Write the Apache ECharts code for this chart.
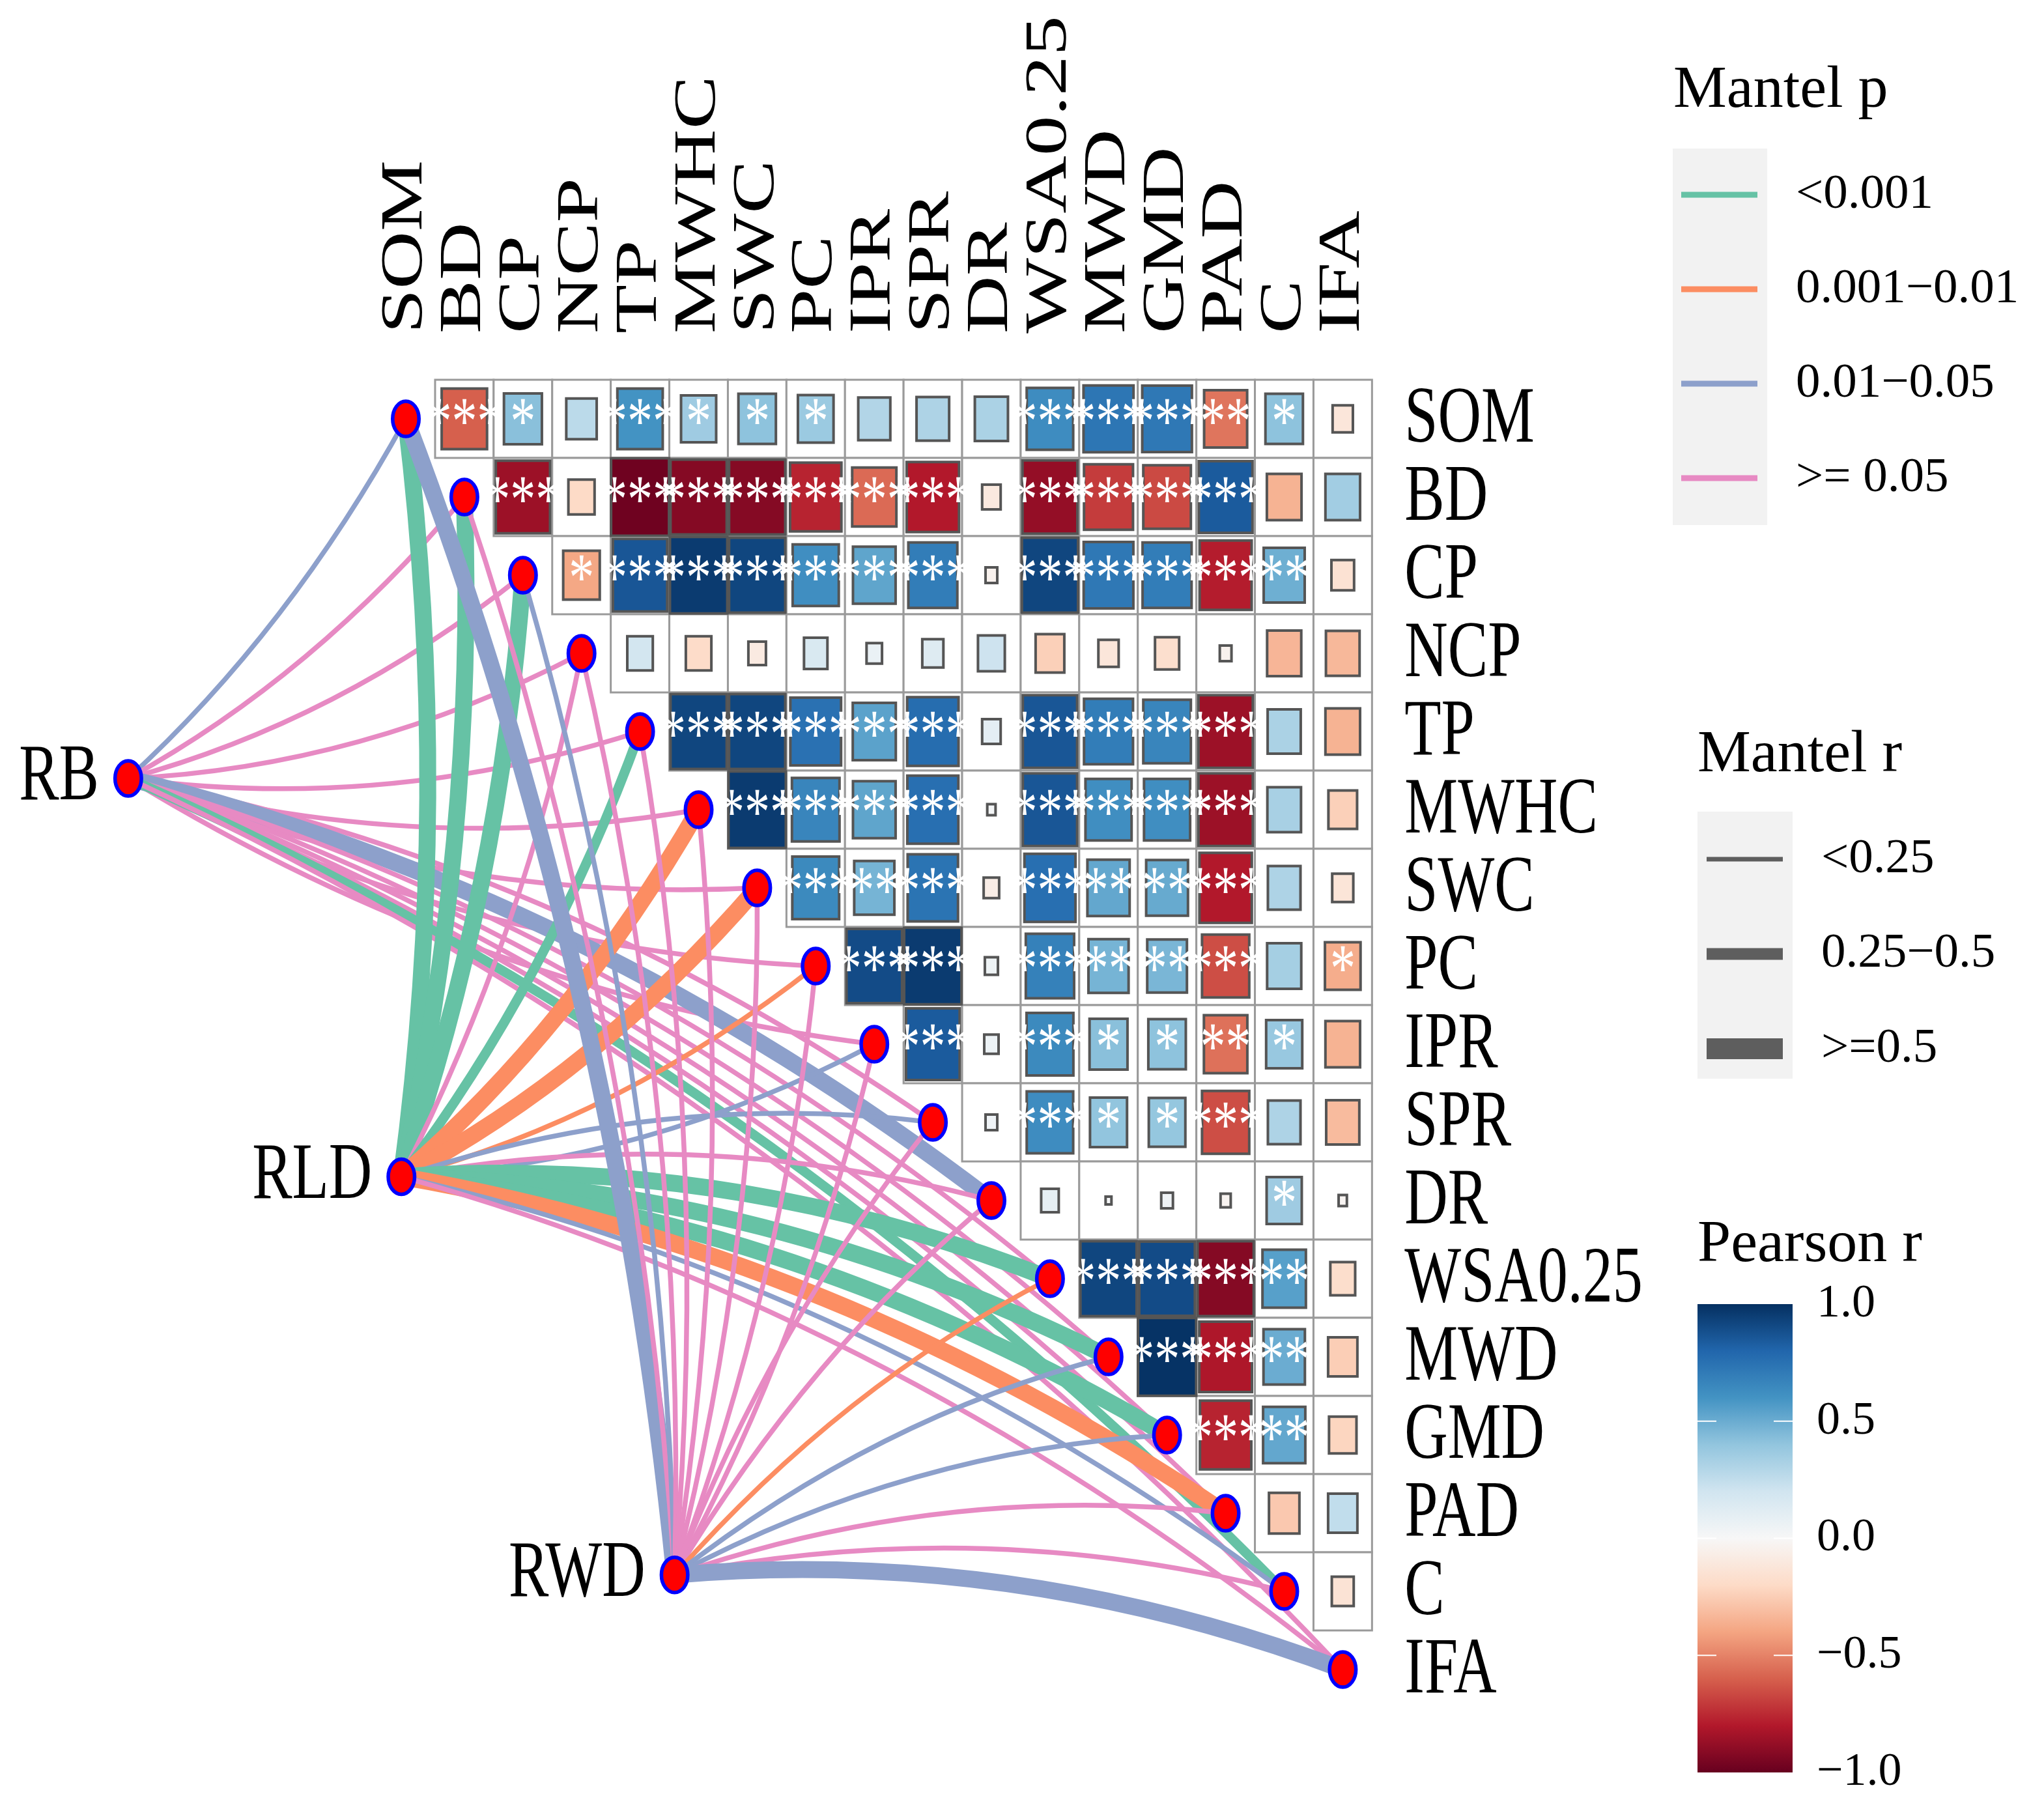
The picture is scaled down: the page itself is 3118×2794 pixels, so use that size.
<!DOCTYPE html>
<html>
<head>
<meta charset="utf-8">
<script src="https://cdn.jsdelivr.net/npm/echarts@6/dist/echarts.min.js"></script>
<style>
html,body{margin:0;padding:0;background:#ffffff;}
#chart{width:3118px;height:2794px;}
</style>
</head>
<body>
<div id="chart"></div>
<script>
// ---------------- DATA ----------------
const vars = ['SOM','BD','CP','NCP','TP','MWHC','SWC','PC','IPR','SPR','DR','WSA0.25','MWD','GMD','PAD','C','IFA'];
const envs = ['RB','RLD','RWD'];

// Pearson r, upper triangle: row variable vs. every later variable
const r_SOM  = [-0.60, 0.42, 0.27, 0.60, 0.36, 0.41, 0.37, 0.30, 0.31, 0.32, 0.63, 0.73, 0.72, -0.54, 0.41, -0.12];
const r_BD   = [-0.86, -0.20, -0.98, -0.92, -0.92, -0.77, -0.57, -0.80, -0.10, -0.88, -0.70, -0.66, 0.84, -0.35, 0.35];
const r_CP   = [-0.39, 0.86, 0.96, 0.92, 0.62, 0.53, 0.70, -0.04, 0.92, 0.72, 0.70, -0.79, 0.49, -0.15];
const r_NCP  = [0.19, -0.19, -0.09, 0.16, 0.07, 0.13, 0.21, -0.24, -0.12, -0.17, -0.04, -0.34, -0.33];
const r_TP   = [0.92, 0.92, 0.75, 0.54, 0.77, 0.10, 0.86, 0.70, 0.66, -0.86, 0.32, -0.35];
const r_MWHC = [0.96, 0.66, 0.53, 0.76, 0.02, 0.86, 0.62, 0.62, -0.86, 0.33, -0.24];
const r_SWC  = [0.64, 0.47, 0.74, -0.07, 0.76, 0.52, 0.51, -0.80, 0.31, -0.13];
const r_PC   = [0.90, 0.96, 0.05, 0.68, 0.47, 0.46, -0.65, 0.34, -0.37];
const r_IPR  = [0.84, 0.06, 0.64, 0.42, 0.41, -0.55, 0.38, -0.35];
const r_SPR  = [0.04, 0.63, 0.40, 0.39, -0.65, 0.31, -0.32];
const r_DR   = [0.09, 0.01, 0.04, -0.03, 0.36, -0.02];
const r_WSA  = [0.92, 0.90, -0.92, 0.55, -0.18];
const r_MWD  = [0.99, -0.81, 0.50, -0.25];
const r_GMD  = [-0.77, 0.52, -0.22];
const r_PAD  = [-0.27, 0.25];
const r_C    = [-0.14];

// significance marks for the same cells
const s_SOM  = ['***','*','','***','*','*','*','','','','***','***','***','**','*',''];
const s_BD   = ['***','','***','***','***','***','***','***','','***','***','***','***','',''];
const s_CP   = ['*','***','***','***','***','***','***','','***','***','***','***','**',''];
const s_NCP  = ['','','','','','','','','','','','',''];
const s_TP   = ['***','***','***','***','***','','***','***','***','***','',''];
const s_MWHC = ['***','***','***','***','','***','***','***','***','',''];
const s_SWC  = ['***','**','***','','***','**','**','***','',''];
const s_PC   = ['***','***','','***','**','**','***','','*'];
const s_IPR  = ['***','','***','*','*','**','*',''];
const s_SPR  = ['','***','*','*','***','',''];
const s_DR   = ['','','','','*',''];
const s_WSA  = ['***','***','***','**',''];
const s_MWD  = ['***','***','**',''];
const s_GMD  = ['***','**',''];
const s_PAD  = ['',''];
const s_C    = [''];

// Mantel test classes (index into pLabels / rLabels), one per variable
const pLabels = ['<0.001', '0.001\u22120.01', '0.01\u22120.05', '>= 0.05'];
const rLabels = ['<0.25', '0.25\u22120.5', '>=0.5'];
const p_RB  = [2,3,3,3,3,3,3,3,3,3,2,3,3,3,3,0,3];
const w_RB  = [0,0,0,0,0,0,0,0,0,0,2,0,0,0,0,1,0];
const p_RLD = [0,0,0,3,0,1,1,1,2,2,3,0,0,0,1,2,3];
const w_RLD = [2,2,2,0,1,2,2,0,0,0,0,2,2,2,2,0,0];
const p_RWD = [2,3,2,3,3,3,3,3,3,3,3,1,2,2,3,3,2];
const w_RWD = [2,0,0,0,0,0,0,0,0,0,0,0,0,0,0,0,2];

const corTicks = [1.0, 0.5, 0.0, -0.5, -1.0];

// ---------------- STYLE ----------------
const pColors = ['#66C2A5', '#FC8D62', '#8DA0CB', '#E78AC3'];
const linkWidths = [7.5, 15, 26];
const legendWidths = [7, 18, 32];
const rdbu = ['#67001F','#B2182B','#D6604D','#F4A582','#FDDBC7','#F7F7F7','#D1E5F0','#92C5DE','#4393C3','#2166AC','#053061'];
const SERIF = '"Liberation Serif", "Times New Roman", serif';

// ---------------- BUILD ----------------
const rRows = [r_SOM,r_BD,r_CP,r_NCP,r_TP,r_MWHC,r_SWC,r_PC,r_IPR,r_SPR,r_DR,r_WSA,r_MWD,r_GMD,r_PAD,r_C];
const sRows = [s_SOM,s_BD,s_CP,s_NCP,s_TP,s_MWHC,s_SWC,s_PC,s_IPR,s_SPR,s_DR,s_WSA,s_MWD,s_GMD,s_PAD,s_C];
const cellData = [];
rRows.forEach((row, i) => row.forEach((r, k) => {
  cellData.push([i + 1 + k, i, r, sRows[i][k].length]);
}));

const mantelP = [p_RB, p_RLD, p_RWD];
const mantelW = [w_RB, w_RLD, w_RWD];
const linkData = [];
envs.forEach((e, ei) => vars.forEach((v, t) => linkData.push([ei, t, mantelP[ei][t], mantelW[ei][t]])));

// layout of the environment nodes (a line parallel to the diagonal)
function envPos(ei) { return [-4.74 + 4.665 * ei, 4.6 + 5.095 * ei]; }

const nodeData = [];
vars.forEach((v, t) => nodeData.push([t, t]));
envs.forEach((e, ei) => nodeData.push(envPos(ei)));

const labelData = [];
vars.forEach((v, t) => labelData.push([0, t]));
vars.forEach((v, t) => labelData.push([1, t]));
envs.forEach((e, ei) => labelData.push([2, ei]));

const midRow = (vars.length - 1) / 2;

const chart = echarts.init(document.getElementById('chart'), null, {renderer: 'canvas', width: 3118, height: 2794});

// legend graphics
const g = [];
// Mantel p
g.push({type:'text', x: 2569, y: 140, style:{text:'Mantel p', font:'92px ' + SERIF, fill:'#000', align:'left', verticalAlign:'middle'}});
g.push({type:'rect', shape:{x:2568, y:228, width:145, height:578}, style:{fill:'#F2F2F2'}});
pLabels.forEach((lab, k) => {
  const y = 299 + 145 * k;
  g.push({type:'line', shape:{x1:2581, y1:y, x2:2698, y2:y}, style:{stroke:pColors[k], lineWidth:9}});
  g.push({type:'text', x: 2757, y: y, style:{text:lab, font:'75px ' + SERIF, fill:'#000', align:'left', verticalAlign:'middle'}});
});
// Mantel r
g.push({type:'text', x: 2606, y: 1160, style:{text:'Mantel r', font:'92px ' + SERIF, fill:'#000', align:'left', verticalAlign:'middle'}});
g.push({type:'rect', shape:{x:2606, y:1246, width:146, height:410}, style:{fill:'#F2F2F2'}});
rLabels.forEach((lab, k) => {
  const y = 1319 + 145.5 * k;
  g.push({type:'line', shape:{x1:2620, y1:y, x2:2737, y2:y}, style:{stroke:'#5E5E5E', lineWidth:legendWidths[k]}});
  g.push({type:'text', x: 2796, y: y, style:{text:lab, font:'75px ' + SERIF, fill:'#000', align:'left', verticalAlign:'middle'}});
});
// Pearson r colour bar
g.push({type:'text', x: 2606, y: 1912, style:{text:'Pearson r', font:'92px ' + SERIF, fill:'#000', align:'left', verticalAlign:'middle'}});
const barTop = 2002, barH = 719, barX = 2606, barW = 146;
g.push({type:'rect', shape:{x:barX, y:barTop, width:barW, height:barH}, style:{
  fill: new echarts.graphic.LinearGradient(0, 0, 0, 1, rdbu.slice().reverse().map((c, k) => ({offset: k / (rdbu.length - 1), color: c})))
}});
corTicks.forEach(v => {
  const y = barTop + (1 - v) / 2 * barH;
  if (Math.abs(v) < 1) {
    g.push({type:'line', shape:{x1:barX, y1:y, x2:barX + 29, y2:y}, style:{stroke:'#ffffff', lineWidth:2}});
    g.push({type:'line', shape:{x1:barX + barW - 29, y1:y, x2:barX + barW, y2:y}, style:{stroke:'#ffffff', lineWidth:2}});
  }
  const txt = (v < 0 ? '\u2212' : '') + Math.abs(v).toFixed(1);
  g.push({type:'text', x: 2789, y: y, style:{text:txt, font:'72px ' + SERIF, fill:'#000', align:'left', verticalAlign:'middle'}});
});

const option = {
  animation: false,
  backgroundColor: '#ffffff',
  grid: {left: 83.6, top: 43, width: 2157.6, height: 2640},
  xAxis: {type: 'value', min: -6, max: 18, show: false},
  yAxis: {type: 'value', min: -5, max: 17, inverse: true, show: false},
  visualMap: {
    type: 'continuous', show: false, min: -1, max: 1, dimension: 2, seriesIndex: 1,
    inRange: {color: rdbu}
  },
  graphic: {elements: g},
  series: [
    { // cell backgrounds
      type: 'custom', silent: true, data: cellData, z: 1,
      renderItem(params, api) {
        const c = api.coord([api.value(0), api.value(1)]);
        const s = api.size([1, 1]);
        return {type:'rect', shape:{x:c[0]-s[0]/2, y:c[1]-s[1]/2, width:s[0], height:s[1]},
          style:{fill:'#ffffff', stroke:'#9A9A9A', lineWidth:3}};
      }
    },
    { // correlation squares
      type: 'custom', silent: true, data: cellData, z: 2,
      renderItem(params, api) {
        const c = api.coord([api.value(0), api.value(1)]);
        const s = api.size([1, 1]);
        const f = Math.sqrt(Math.abs(api.value(2)));
        const w = s[0] * f, h = s[1] * f;
        return {type:'rect', shape:{x:c[0]-w/2, y:c[1]-h/2, width:w, height:h},
          style:{fill: api.visual('color'), stroke:'#555555', lineWidth:4}};
      }
    },
    { // significance stars
      type: 'custom', silent: true, data: cellData, z: 3,
      renderItem(params, api) {
        const n = api.value(3);
        if (!n) return null;
        const c = api.coord([api.value(0), api.value(1)]);
        const s = api.size([1, 1]);
        return {type:'text', x:c[0], y:c[1] + 11, scaleY: s[1]/s[0],
          style:{text:'*'.repeat(n), font:'78px ' + SERIF, fill:'#ffffff', align:'center', verticalAlign:'middle'}};
      }
    },
    { // Mantel links
      type: 'custom', silent: true, data: linkData, z: 4,
      renderItem(params, api) {
        const ei = api.value(0), t = api.value(1);
        const p0 = api.coord(envPos(ei));
        const p1 = api.coord([t, t]);
        const s = api.size([1, 1]);
        const S = s[1] / s[0];
        const ux0 = p0[0], uy0 = p0[1] / S, ux1 = p1[0], uy1 = p1[1] / S;
        const dx = ux1 - ux0, dy = uy1 - uy0;
        const sign = t <= midRow ? 1 : -1;
        const K = 0.085;
        const cx = (ux0 + ux1) / 2 + sign * K * (-dy);
        const cy = (uy0 + uy1) / 2 + sign * K * dx;
        return {type:'bezierCurve', shape:{x1:p0[0], y1:p0[1], x2:p1[0], y2:p1[1], cpx1:cx, cpy1:cy * S},
          style:{stroke: pColors[api.value(2)], lineWidth: linkWidths[api.value(3)], fill: null, lineCap:'butt'}};
      }
    },
    { // nodes
      type: 'custom', silent: true, data: nodeData, z: 5,
      renderItem(params, api) {
        const c = api.coord([api.value(0), api.value(1)]);
        const s = api.size([1, 1]);
        return {type:'ellipse', shape:{cx:c[0], cy:c[1], rx:s[0]*0.225, ry:s[1]*0.225},
          style:{fill:'#FF0000', stroke:'#0000FF', lineWidth:5.5}};
      }
    },
    { // text labels
      type: 'custom', silent: true, data: labelData, z: 6,
      renderItem(params, api) {
        const kind = api.value(0), idx = api.value(1);
        const s = api.size([1, 1]);
        const S = s[1] / s[0];
        const font = '92px ' + SERIF;
        if (kind === 0) {
          const p = api.coord([vars.length - 0.5, idx]);
          return {type:'text', x:p[0] + 50, y:p[1] + 3, scaleY:S,
            style:{text:vars[idx], font, fill:'#000', align:'left', verticalAlign:'middle'}};
        } else if (kind === 1) {
          const p = api.coord([idx, -0.5]);
          return {type:'text', x:p[0], y:p[1] - 71, rotation:Math.PI/2, scaleX:S,
            style:{text:vars[idx], font, fill:'#000', align:'left', verticalAlign:'middle'}};
        } else {
          const p = api.coord(envPos(idx));
          return {type:'text', x:p[0] - 45, y:p[1], scaleY:S,
            style:{text:envs[idx], font, fill:'#000', align:'right', verticalAlign:'middle'}};
        }
      }
    }
  ]
};
chart.setOption(option);
</script>
</body>
</html>
